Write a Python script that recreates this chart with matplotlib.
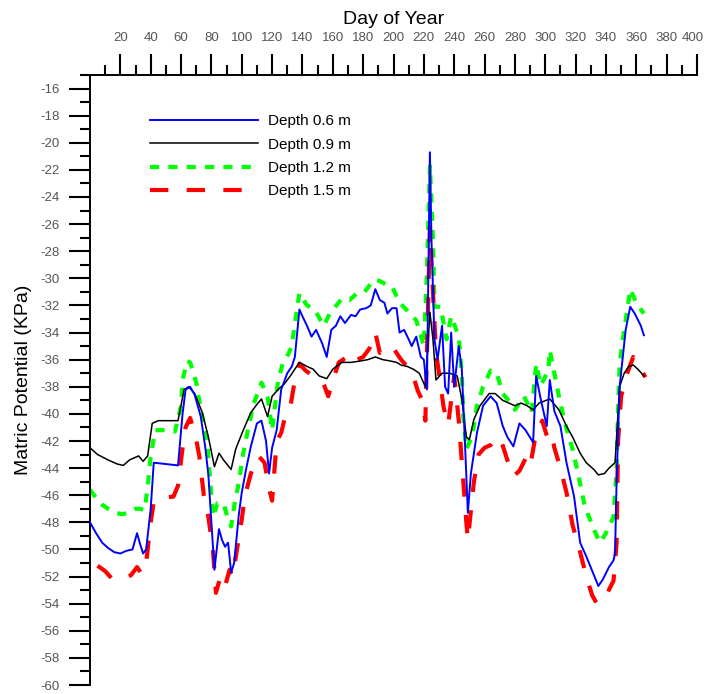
import matplotlib
matplotlib.use("Agg")
import matplotlib.pyplot as plt
from matplotlib.ticker import MultipleLocator, FixedLocator
from matplotlib.transforms import ScaledTranslation

plt.rcParams["font.family"] = ["Liberation Sans", "DejaVu Sans"]
plt.rcParams["axes.unicode_minus"] = False

# Matric potential (kPa) by day of year at four depths
day_06 = [0, 4, 8, 12, 16, 20, 24, 28, 31, 33, 35, 37, 40, 42, 50, 58, 61, 63, 66, 69,
          73, 76, 78, 82, 85, 87, 89, 91, 93, 95, 98, 100, 103, 106, 110, 113, 116, 118, 120, 123,
          126, 130, 133, 135, 138, 140, 143, 146, 149, 153, 156, 159, 162, 165, 168, 172, 175, 178, 182, 185,
          188, 191, 194, 196, 199, 202, 204, 207, 210, 212, 215, 218, 220, 222, 224, 225, 227, 229, 232, 234,
          236, 238, 240, 243, 245, 247, 249, 251, 255, 259, 264, 268, 272, 275, 279, 283, 287, 292, 294, 297,
          301, 303, 306, 310, 314, 319, 323, 327, 331, 335, 338, 342, 345, 346, 347, 349, 353, 356, 359, 363, 365]
pot_06 = [-48.0, -48.8, -49.5, -49.9, -50.2, -50.3, -50.1, -50.0, -48.8, -49.6, -50.3, -50.0, -47.0, -43.6, -43.7, -43.8, -40.0, -38.2, -38.0, -38.6,
          -40.2, -42.5, -44.5, -51.5, -48.5, -49.3, -49.8, -49.5, -51.7, -51.0, -47.5, -45.8, -44.0, -42.4, -40.7, -40.5, -42.0, -44.4, -42.5, -41.2,
          -38.2, -37.0, -36.5, -35.8, -32.3, -32.8, -33.5, -34.3, -33.8, -34.8, -35.8, -33.8, -33.5, -32.8, -33.3, -32.7, -32.8, -32.3, -32.2, -32.0,
          -30.8, -31.6, -31.8, -32.6, -32.2, -32.2, -34.0, -33.8, -34.5, -35.0, -34.3, -35.8, -36.0, -38.2, -20.7, -27.1, -34.5, -36.0, -33.5, -38.0,
          -38.5, -34.0, -38.0, -35.0, -36.7, -41.9, -47.3, -44.4, -41.4, -39.4, -38.7, -39.2, -40.9, -41.7, -42.4, -40.7, -41.2, -42.1, -37.2, -38.9,
          -40.9, -37.5, -39.8, -40.9, -43.6, -46.1, -49.5, -50.5, -51.6, -52.7, -52.2, -51.3, -50.8, -50.3, -45.0, -38.0, -33.8, -32.1, -32.6, -33.5, -34.2]

day_09 = [0, 5, 12, 18, 22, 26, 30, 32, 35, 38, 41, 45, 58, 62, 65, 69, 74, 78, 82, 85,
          88, 93, 96, 101, 106, 110, 113, 117, 120, 124, 128, 132, 135, 138, 143, 147, 151, 156, 160, 166,
          172, 178, 183, 188, 193, 198, 202, 205, 209, 213, 217, 221, 224, 226, 228, 232, 237, 242, 245, 248,
          250, 253, 257, 263, 267, 272, 276, 280, 284, 288, 292, 296, 303, 309, 314, 318, 323, 327, 332, 335,
          339, 342, 346, 347, 349, 352, 355, 358, 361, 365]
pot_09 = [-42.5, -43.0, -43.4, -43.7, -43.8, -43.4, -43.2, -43.1, -43.5, -43.1, -40.7, -40.5, -40.5, -38.2, -38.0, -38.5, -39.9, -41.7, -43.9, -42.9,
          -43.4, -44.1, -42.6, -41.2, -39.9, -39.3, -38.9, -40.2, -38.7, -38.2, -37.8, -37.2, -36.7, -36.2, -36.5, -36.7, -37.2, -37.4, -36.7, -36.2,
          -36.2, -36.1, -36.0, -35.8, -36.0, -36.1, -36.2, -36.4, -36.5, -36.7, -37.0, -38.0, -32.5, -34.5, -37.5, -37.0, -37.0, -37.2, -38.9, -41.7,
          -41.9, -40.4, -39.4, -38.5, -38.5, -39.0, -39.2, -39.4, -39.2, -39.4, -39.7, -39.2, -38.9, -39.7, -40.9, -41.7, -42.9, -43.6, -44.1, -44.5,
          -44.4, -44.0, -43.6, -41.7, -38.0, -37.0, -36.5, -36.4, -36.7, -37.2]

day_12 = [0, 4, 8, 12, 17, 21, 26, 30, 33, 36, 38, 40, 43, 50, 56, 60, 61, 64, 66, 70,
          73, 77, 79, 81, 84, 88, 91, 93, 95, 98, 101, 104, 108, 113, 117, 120, 124, 127, 129, 133,
          135, 138, 143, 148, 154, 158, 166, 171, 176, 181, 187, 191, 196, 199, 204, 211, 215, 220, 222, 224,
          226, 227, 231, 235, 238, 243, 245, 246, 248, 252, 255, 259, 264, 268, 272, 275, 280, 286, 291, 294,
          297, 302, 303, 309, 313, 318, 322, 326, 332, 336, 340, 345, 347, 348, 349, 352, 355, 356, 360, 365]
pot_12 = [-45.6, -46.2, -46.7, -47.0, -47.3, -47.4, -47.3, -47.0, -47.0, -47.1, -45.4, -43.1, -41.2, -41.2, -41.3, -39.4, -37.5, -36.1, -36.2, -37.7,
          -39.7, -41.7, -44.6, -47.6, -46.6, -46.6, -47.8, -48.3, -46.8, -45.1, -42.9, -41.2, -39.2, -37.7, -38.7, -41.2, -37.5, -36.3, -36.0, -35.0,
          -33.3, -31.1, -32.0, -32.3, -33.5, -32.6, -31.5, -31.6, -31.1, -31.0, -30.1, -30.2, -30.5, -30.6, -31.8, -32.6, -33.1, -35.0, -29.6, -21.7,
          -27.1, -32.1, -32.1, -34.5, -32.8, -34.3, -37.0, -40.2, -42.6, -41.6, -39.4, -38.0, -36.8, -37.0, -38.5, -38.9, -39.7, -38.7, -39.9, -36.3,
          -37.9, -36.8, -35.3, -38.7, -40.7, -42.6, -44.6, -46.8, -48.5, -49.5, -48.8, -47.6, -44.1, -39.7, -36.3, -33.8, -31.6, -30.8, -31.8, -32.6]

day_15 = [5, 10, 14, 19, 23, 27, 31, 34, 37, 40, 42, 48, 55, 58, 61, 63, 66, 70, 72, 75,
          78, 81, 83, 86, 89, 92, 94, 96, 100, 102, 106, 111, 115, 118, 120, 123, 126, 129, 132, 135,
          138, 142, 147, 151, 154, 157, 160, 164, 168, 171, 176, 180, 184, 188, 191, 196, 199, 202, 205, 209,
          213, 216, 219, 221, 224, 226, 228, 230, 233, 236, 238, 240, 243, 245, 248, 249, 253, 256, 260, 264,
          268, 271, 275, 279, 283, 287, 290, 293, 295, 298, 301, 304, 306, 310, 314, 318, 323, 327, 331, 334,
          337, 341, 345, 347, 348, 350, 354, 358, 362, 366]
pot_15 = [-51.2, -51.6, -52.1, -52.2, -52.1, -51.9, -51.3, -51.8, -51.0, -48.0, -46.5, -46.2, -46.1, -45.3, -42.5, -41.0, -40.3, -41.9, -43.1, -46.0,
          -47.6, -50.0, -53.2, -52.0, -52.7, -51.5, -52.0, -50.6, -47.8, -46.1, -44.4, -43.1, -43.6, -45.5, -46.4, -42.0, -41.4, -40.0, -39.5, -37.5,
          -36.3, -36.8, -37.2, -37.5, -37.8, -38.7, -37.5, -36.2, -35.9, -36.4, -36.0, -35.8, -35.2, -34.0, -35.5, -35.2, -35.0, -35.5, -36.0, -36.5,
          -37.2, -38.3, -39.0, -40.5, -26.2, -31.0, -35.5, -37.0, -39.5, -40.8, -39.0, -37.2, -40.5, -43.5, -48.0, -49.3, -45.0, -43.0, -42.5, -42.3,
          -41.7, -42.0, -43.4, -44.6, -44.2, -43.3, -43.9, -42.0, -41.3, -40.5, -41.6, -41.3, -42.5, -44.0, -45.8, -48.2, -50.2, -52.0, -53.4, -54.0,
          -53.8, -53.2, -52.3, -49.5, -42.0, -38.7, -37.0, -35.8, -36.5, -37.3]

labels = ["Depth 0.6 m", "Depth 0.9 m", "Depth 1.2 m", "Depth 1.5 m"]
x_ticks = list(range(20, 401, 20))
y_ticks = list(range(-60, -15, 2))

fig = plt.figure(figsize=(7.07, 6.94), dpi=100)
ax = fig.add_axes([90 / 707, 1 - 685 / 694, 607 / 707, 610 / 694])

l_green, = ax.plot(day_12, pot_12, color="#00ff00", lw=3.0, dashes=(2.2, 2.2), zorder=2)
l_red, = ax.plot(day_15, pot_15, color="#ff0000", lw=3.0, dashes=(4.4, 4.4), zorder=3)
l_black, = ax.plot(day_09, pot_09, color="black", lw=1.1, zorder=4)
l_blue, = ax.plot(day_06, pot_06, color="#0000ff", lw=1.4, zorder=5)

ax.set_xlim(0, 400)
ax.set_ylim(-60, -15)

for side in ("right", "bottom"):
    ax.spines[side].set_visible(False)
for side in ("left", "top"):
    ax.spines[side].set_linewidth(1.4)

ax.xaxis.tick_top()
ax.xaxis.set_label_position("top")
ax.xaxis.set_major_locator(FixedLocator(x_ticks))
ax.xaxis.set_minor_locator(FixedLocator(list(range(10, 400, 20))))
ax.yaxis.set_major_locator(FixedLocator(y_ticks))
ax.yaxis.set_minor_locator(MultipleLocator(1))

ax.tick_params(axis="both", which="major", direction="out", length=15, width=1.5,
               labelsize=9.5, labelcolor="#555555", pad=7)
ax.tick_params(axis="both", which="minor", direction="out", length=7, width=1.5)

# keep the last top label inside the figure
last_label = ax.xaxis.get_major_ticks()[-1].label2
last_label.set_transform(last_label.get_transform() + ScaledTranslation(-4 / 100, 0, fig.dpi_scale_trans))

ax.set_xlabel("Day of Year", fontsize=14, labelpad=6)
ax.set_ylabel("Matric Potential (KPa)", fontsize=14, labelpad=6)

ax.legend([l_blue, l_black, l_green, l_red], labels, loc="upper left",
          bbox_to_anchor=(0.0988, 0.936), frameon=False, fontsize=11,
          handlelength=7.1, handletextpad=0.64, labelspacing=0.62,
          borderpad=0, borderaxespad=0)

fig.savefig("out.png", dpi=100)
